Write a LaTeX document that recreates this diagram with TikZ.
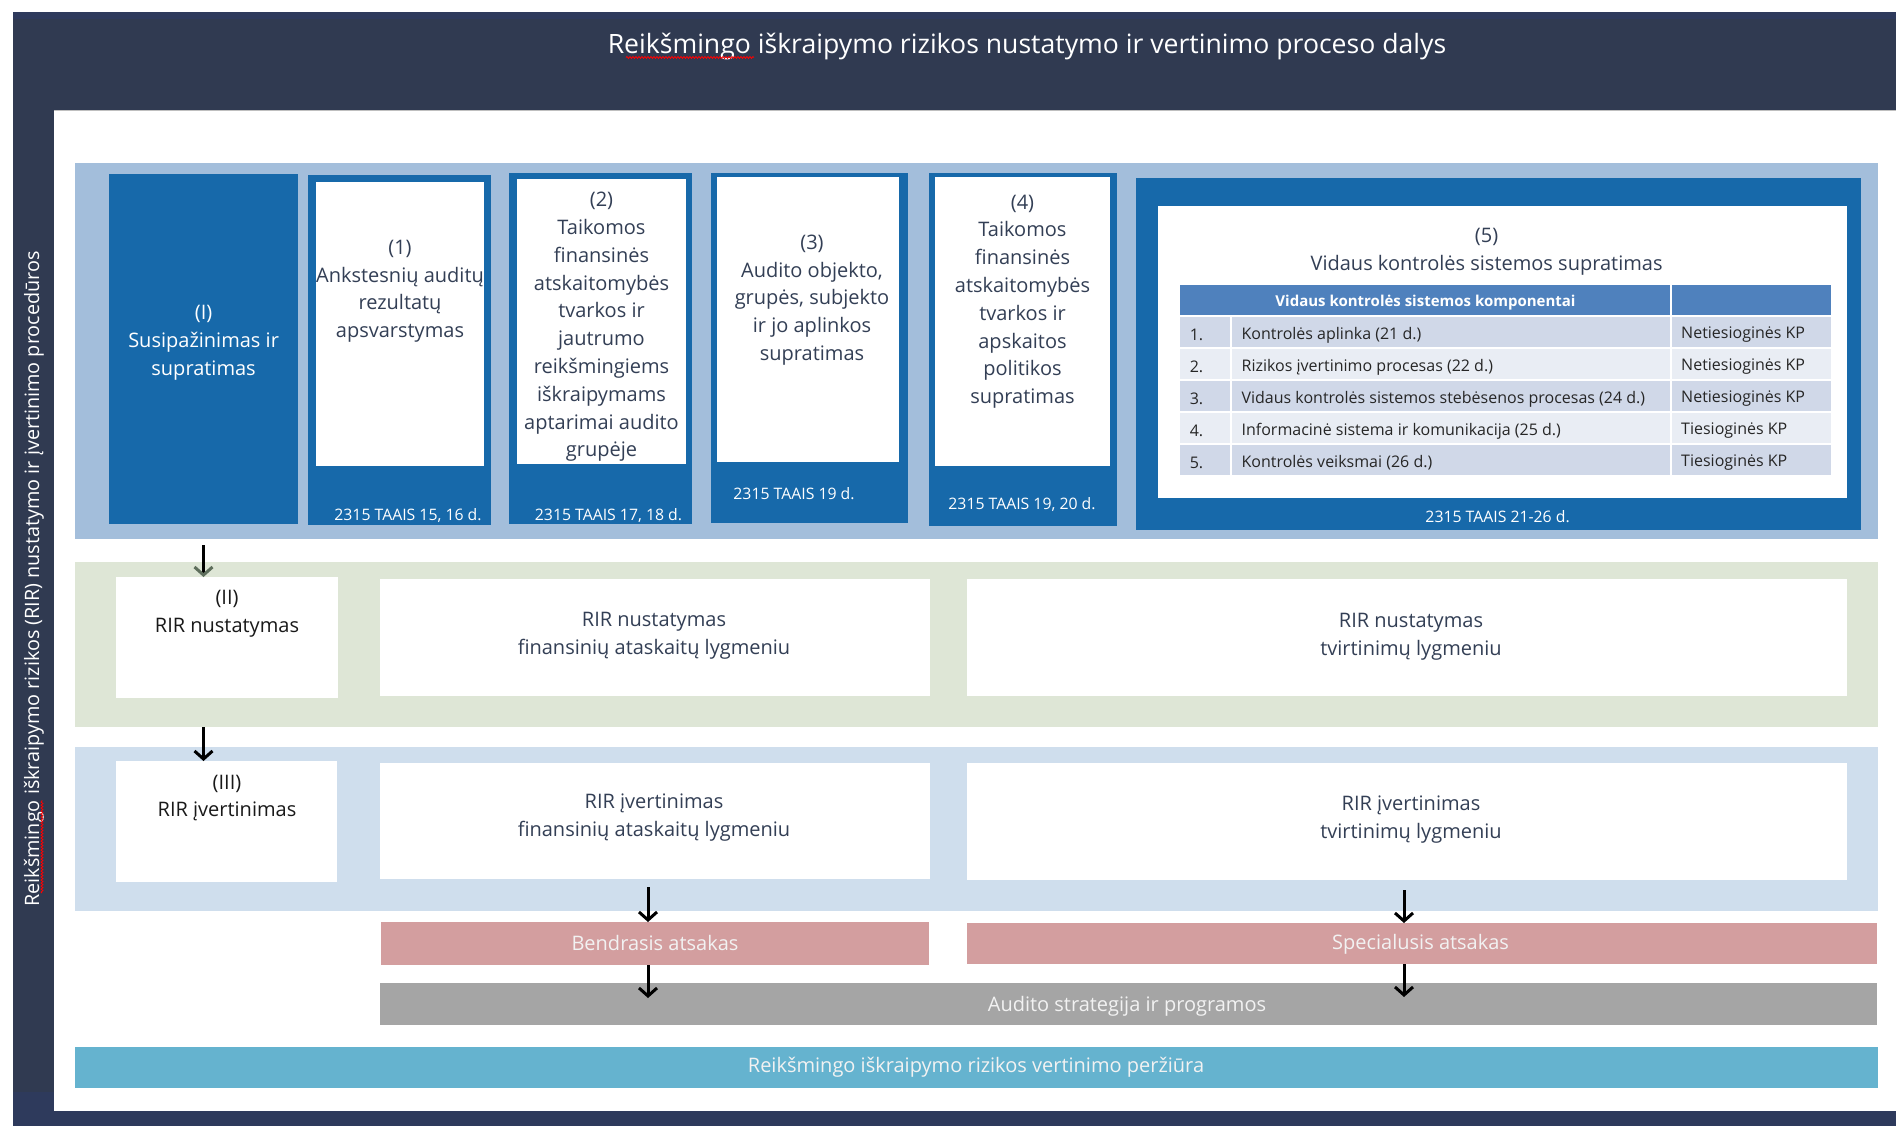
\documentclass[tikz,border=0pt]{standalone}
\usepackage{fontspec}
\setmainfont{Open Sans}
\usetikzlibrary{arrows.meta,decorations.pathmorphing}
\definecolor{navy}{HTML}{303A51}
\definecolor{navyb}{HTML}{2E3A5C}
\definecolor{pale}{HTML}{A3BEDB}
\definecolor{boxblue}{HTML}{1769AA}
\definecolor{sage}{HTML}{DEE6D6}
\definecolor{lightb}{HTML}{CFDEED}
\definecolor{pinkbar}{HTML}{D39E9F}
\definecolor{graybar}{HTML}{A5A5A5}
\definecolor{tealbar}{HTML}{65B3CF}
\definecolor{hdr}{HTML}{4F81BD}
\definecolor{rowa}{HTML}{D0D8E8}
\definecolor{rowb}{HTML}{E9EDF4}
\definecolor{txt}{HTML}{333F55}
\definecolor{arrgreen}{HTML}{5E6E5C}
\newcommand\rbox[6]{\node[#6,anchor=north west,minimum width={#4-#2},minimum height={#5-#3},inner sep=0pt,outer sep=0pt] (#1) at (#2,#3) {};}
\tikzset{
  body/.style={font=\fontsize{20}{27.8}\selectfont, text=txt, align=center, inner sep=0pt},
  titletxt/.style={font=\fontsize{26.6}{32}\selectfont, text=white, inner sep=0pt},
  sidetxt/.style={font=\fontsize{19.8}{24}\selectfont, text=white, inner sep=0pt},
  lbl/.style={font=\fontsize{15.8}{19}\selectfont, text=white, inner sep=0pt},
  tbl/.style={font=\fontsize{16}{18}\selectfont, text=black!85, inner sep=0pt, anchor=west},
  bartxt/.style={font=\fontsize{20}{24}\selectfont, text=white!95!black, inner sep=0pt},
  arr/.style={line width=3pt, -{Straight Barb[length=8pt,width=18pt]}},
  squig/.style={red, line width=0.8pt, decorate, decoration={snake, amplitude=1pt, segment length=3pt}}
}
\begin{document}
\begin{tikzpicture}[x=1pt,y=-1pt]
\useasboundingbox (0,0) rectangle (1896,1126);
\fill[white] (0,0) rectangle (1896,1126);
% frame
\fill[navy] (13,12) rectangle (1896,110);
\fill[navyb] (13,12) rectangle (1896,19);
\draw[gray!50, line width=1pt] (54,110.5) -- (1896,110.5);
\fill[navy] (13,110) rectangle (54,1111);
\fill[navyb] (13,1092) rectangle (54,1126);
\fill[navyb] (13,1111) rectangle (1896,1126);
\node[titletxt, anchor=base] (title) at (1027,53.3) {Reikšmingo iškraipymo rizikos nustatymo ir vertinimo proceso dalys};
\draw[squig] (626,57.5) -- (754,57.5);
\node[sidetxt, rotate=90] (side) at (34,579) {Reikšmingo iškraipymo rizikos (RIR) nustatymo ir įvertinimo procedūros};
\draw[squig] (42,893) -- (42,800);
% top row
\rbox{top}{75}{163}{1878}{539}{fill=pale}
\rbox{bI}{109}{174}{298}{524}{fill=boxblue}
\rbox{b1}{308}{175}{491}{525}{fill=boxblue}
\rbox{w1}{316}{182}{484}{466}{fill=white}
\rbox{b2}{509}{173}{692}{524}{fill=boxblue}
\rbox{w2}{517}{179}{686}{464}{fill=white}
\rbox{b3}{711}{173}{908}{523}{fill=boxblue}
\rbox{w3}{717}{177}{899}{462}{fill=white}
\rbox{b4}{929}{173}{1117}{526}{fill=boxblue}
\rbox{w4}{935}{177}{1110}{466}{fill=white}
\rbox{b5}{1136}{178}{1861}{530}{fill=boxblue}
\rbox{w5}{1158}{206}{1847}{498}{fill=white}
\node[body, text=white] (tI) at (203.6,343) {(I)\\Susipažinimas ir\\supratimas};
\node[body] (t1) at (400,291.2) {(1)\\Ankstesnių auditų\\rezultatų\\apsvarstymas};
\node[body] (t2) at (601.5,327) {(2)\\Taikomos\\finansinės\\atskaitomybės\\tvarkos ir\\jautrumo\\reikšmingiems\\iškraipymams\\aptarimai audito\\grupėje};
\node[body] (t3) at (812,300) {(3)\\Audito objekto,\\grupės, subjekto\\ir jo aplinkos\\supratimas};
\node[body] (t4) at (1022.5,301.7) {(4)\\Taikomos\\finansinės\\atskaitomybės\\tvarkos ir\\apskaitos\\politikos\\supratimas};
\node[body] (t5) at (1486.6,251.5) {(5)\\Vidaus kontrolės sistemos supratimas};
\node[lbl] (l1) at (408,515.6) {2315 TAAIS 15, 16 d.};
\node[lbl] (l2) at (608.5,516) {2315 TAAIS 17, 18 d.};
\node[lbl] (l3) at (794,493.5) {2315 TAAIS 19 d.};
\node[lbl] (l4) at (1022,504.2) {2315 TAAIS 19, 20 d.};
\node[lbl] (l5) at (1497.6,516.5) {2315 TAAIS 21-26 d.};
% table
\fill[hdr] (1180,285) rectangle (1831,315);
\draw[white, line width=2pt] (1671,285) -- (1671,315);
\node[font=\fontsize{15}{18}\selectfont\bfseries, text=white, inner sep=0pt] (th) at (1425.5,303) {Vidaus kontrolės sistemos komponentai};
\foreach \k/\c/\t/\kp in {0/rowa/{Kontrolės aplinka (21 d.)}/{Netiesioginės KP},
  1/rowb/{Rizikos įvertinimo procesas (22 d.)}/{Netiesioginės KP},
  2/rowa/{Vidaus kontrolės sistemos stebėsenos procesas (24 d.)}/{Netiesioginės KP},
  3/rowb/{Informacinė sistema ir komunikacija (25 d.)}/{Tiesioginės KP},
  4/rowa/{Kontrolės veiksmai (26 d.)}/{Tiesioginės KP}}{
  \pgfmathsetmacro\ya{317+32*\k}
  \pgfmathsetmacro\yb{\ya+30}
  \pgfmathsetmacro\ym{\ya+18}
  \pgfmathtruncatemacro\nn{\k+1}
  \fill[\c] (1180,\ya) rectangle (1230,\yb);
  \fill[\c] (1232,\ya) rectangle (1670,\yb);
  \fill[\c] (1672,\ya) rectangle (1831,\yb);
  \node[tbl] (rn\k) at (1189.6,\ym) {\nn.};
  \node[tbl] (rt\k) at (1241.4,\ym) {\t};
  \node[tbl] (rk\k) at (1681,\ym) {\kp};
}
% row II
\rbox{green}{75}{562}{1878}{727}{fill=sage}
\rbox{bII}{116}{577}{338}{698}{fill=white}
\rbox{rnf}{380}{579}{930}{696}{fill=white}
\rbox{rnt}{967}{579}{1847}{696}{fill=white}
\node[body, text=black!90] (tII) at (227,614) {(II)\\RIR nustatymas};
\node[body] (tnf) at (654,635.5) {RIR nustatymas\\finansinių ataskaitų lygmeniu};
\node[body] (tnt) at (1411,636.5) {RIR nustatymas\\tvirtinimų lygmeniu};
% row III
\rbox{lblue}{75}{747}{1878}{911}{fill=lightb}
\rbox{bIII}{116}{761}{337}{882}{fill=white}
\rbox{rif}{380}{763}{930}{879}{fill=white}
\rbox{rit}{967}{763}{1847}{880}{fill=white}
\node[body, text=black!90] (tIII) at (227,798) {(III)\\RIR įvertinimas};
\node[body] (tif) at (654,817.5) {RIR įvertinimas\\finansinių ataskaitų lygmeniu};
\node[body] (tit) at (1411,819.5) {RIR įvertinimas\\tvirtinimų lygmeniu};
% bars
\rbox{bend}{381}{922}{929}{965}{fill=pinkbar}
\rbox{spec}{967}{923}{1877}{964}{fill=pinkbar}
\rbox{strat}{380}{983}{1877}{1025}{fill=graybar}
\rbox{rev}{75}{1047}{1878}{1088}{fill=tealbar}
\node[bartxt] (tbend) at (655,943) {Bendrasis atsakas};
\node[bartxt] (tspec) at (1420.6,944.5) {Specialusis atsakas};
\node[bartxt] (tstrat) at (1127,1006) {Audito strategija ir programos};
\node[bartxt] (trev) at (976,1067) {Reikšmingo iškraipymo rizikos vertinimo peržiūra};
% arrows
\draw[line width=3pt, -{Straight Barb[length=8pt,width=18pt,color=arrgreen]}] ([yshift=-21pt]bI.south) -- (bI.south |- bII.north);
\draw[arr] (bI.south |- green.south) -- (bI.south |- bIII.north);
\coordinate (a3) at ([xshift=-7pt]rif.south);
\draw[arr] ([yshift=-8pt]a3) -- (a3 |- bend.north);
\coordinate (a4) at (a3 |- strat.north);
\draw[arr] (a3 |- bend.south) -- ([yshift=-15pt]a4);
\coordinate (a5) at ([xshift=-3pt]rit.south);
\draw[arr] ([yshift=-10pt]a5) -- (a5 |- spec.north);
\coordinate (a6) at (a5 |- strat.north);
\draw[arr] (a5 |- spec.south) -- ([yshift=-14pt]a6);
\end{tikzpicture}
\end{document}
